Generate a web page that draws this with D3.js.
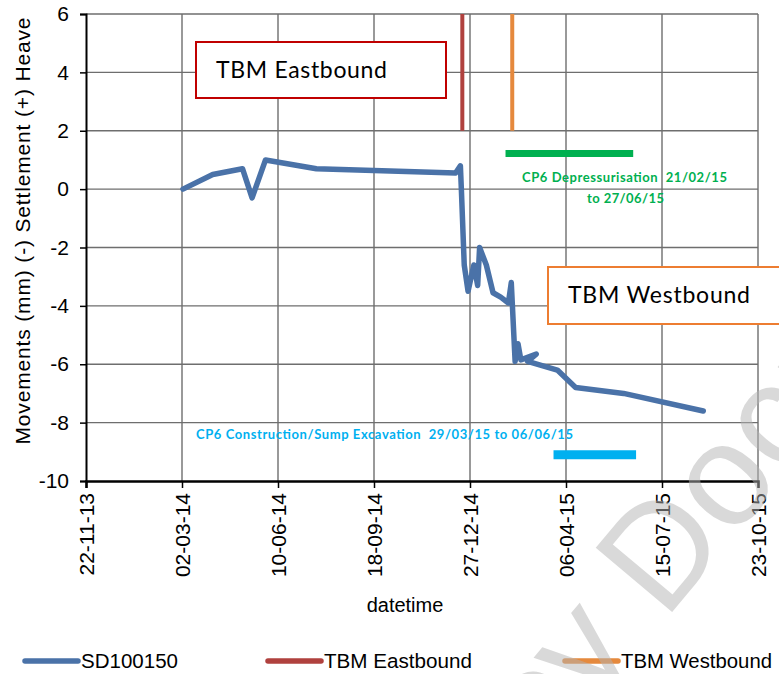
<!DOCTYPE html>
<html><head><meta charset="utf-8">
<script src="https://cdn.jsdelivr.net/npm/d3@7"></script>
<style>body{margin:0;background:#fff}svg{display:block}</style>
</head><body>
<svg id="c" width="779" height="674"></svg>
<script>
// ---- data ----
const seriesName = "SD100150";
const dates = ["2014-03-03","2014-04-03","2014-05-04","2014-05-14","2014-05-28","2014-07-20",
  "2014-12-12","2014-12-17","2014-12-18","2014-12-21","2014-12-25","2014-12-31","2015-01-04",
  "2015-01-06","2015-01-13","2015-01-20","2015-01-28","2015-02-05","2015-02-08","2015-02-12",
  "2015-02-15","2015-02-18","2015-03-06","2015-02-25","2015-03-28","2015-04-16","2015-06-05","2015-08-27"];
const values = [0,0.5,0.7,-0.3,1.0,0.7,
  0.55,0.8,0,-2.6,-3.5,-2.6,-3.3,
  -2.0,-2.6,-3.55,-3.7,-3.9,-3.2,-5.9,
  -5.3,-5.85,-5.65,-5.9,-6.2,-6.8,-7.0,-7.6];
const eastDate = "2014-12-19";
const westDate = "2015-02-09";
const tbmLineValues = [2, 6];
const xTickDates = ["2013-11-22","2014-03-02","2014-06-10","2014-09-18","2014-12-27","2015-04-06","2015-07-15","2015-10-23"];
const yTicks = [6,4,2,0,-2,-4,-6,-8,-10];
const greenBar = {from:"2015-02-02", to:"2015-06-15", value:1.22};
const blueBar = {from:"2015-03-24", to:"2015-06-18", value:-9.1};
const legendNames = ["SD100150","TBM Eastbound","TBM Westbound"];

const parse = d3.timeParse("%Y-%m-%d");
const svg = d3.select("#c");
const x = d3.scaleTime().domain([parse(xTickDates[0]), parse(xTickDates[xTickDates.length-1])]).range([86,758]);
const y = d3.scaleLinear().domain([-10,6]).range([481,14]);

const colBlue="#4a72a8", colRed="#b0413e", colOrange="#e5893d", colGreen="#00b050", colCyan="#00b0f0";
const fontA = "Liberation Sans, Arial, sans-serif";
const fontC = "Lato, 'Open Sans', sans-serif";

// grid
const g = svg.append("g");
g.selectAll(".vg").data(xTickDates.slice(1)).enter().append("line")
  .attr("x1",d=>x(parse(d))).attr("x2",d=>x(parse(d))).attr("y1",y(6)).attr("y2",y(-10))
  .attr("stroke","#6e6e6e").attr("stroke-width",1.4);
g.selectAll(".hg").data(yTicks.filter(v=>v!==-10)).enter().append("line")
  .attr("x1",x.range()[0]).attr("x2",x.range()[1]).attr("y1",d=>y(d)).attr("y2",d=>y(d))
  .attr("stroke","#6e6e6e").attr("stroke-width",1.4);

// axes
const yAxis = svg.append("g").attr("transform","translate(86,0)")
  .call(d3.axisLeft(y).tickValues(yTicks).tickSize(6).tickFormat(d3.format("d")));
yAxis.select(".domain").attr("stroke","#000").attr("stroke-width",2);
yAxis.selectAll(".tick line").attr("stroke","#000").attr("stroke-width",1.5);
yAxis.selectAll(".tick text").attr("font-family",fontA).attr("font-size",21).attr("fill","#000").attr("x",-17)
  .text(d=>String(d).replace("\u2212","-"));

const xAxis = svg.append("g").attr("transform","translate(0,481)")
  .call(d3.axisBottom(x).tickValues(xTickDates.map(parse)).tickSize(7).tickFormat(d3.timeFormat("%d-%m-%y")));
xAxis.select(".domain").attr("stroke","#000").attr("stroke-width",2.5);
xAxis.selectAll(".tick line").attr("stroke","#000").attr("stroke-width",1.5);
xAxis.selectAll(".tick text").attr("font-family",fontA).attr("font-size",21).attr("fill","#000")
  .attr("transform","rotate(-90)").attr("text-anchor","end").attr("x",-12).attr("y",0).attr("dy","0.35em");

// axis titles
svg.append("text").attr("transform","translate(30,231) rotate(-90)").attr("text-anchor","middle")
  .attr("font-family",fontA).attr("font-size",21).attr("fill","#000").attr("textLength",427)
  .text("Movements (mm) (-) Settlement (+) Heave");
svg.append("text").attr("x",405).attr("y",612).attr("text-anchor","middle")
  .attr("font-family",fontA).attr("font-size",20).attr("fill","#000").text("datetime");

// TBM lines
[[eastDate,colRed],[westDate,colOrange]].forEach(([d,c])=>{
  svg.append("line").attr("x1",x(parse(d))).attr("x2",x(parse(d)))
    .attr("y1",y(tbmLineValues[0])).attr("y2",y(tbmLineValues[1]))
    .attr("stroke",c).attr("stroke-width",4);
});

// bars
svg.append("line").attr("x1",x(parse(greenBar.from))).attr("x2",x(parse(greenBar.to)))
  .attr("y1",y(greenBar.value)).attr("y2",y(greenBar.value)).attr("stroke",colGreen).attr("stroke-width",7);
svg.append("line").attr("x1",x(parse(blueBar.from))).attr("x2",x(parse(blueBar.to)))
  .attr("y1",y(blueBar.value)).attr("y2",y(blueBar.value)).attr("stroke",colCyan).attr("stroke-width",9);

// annotation texts
svg.append("text").attr("x",522).attr("y",182).attr("font-family",fontC).attr("font-weight","bold")
  .attr("font-size",13).attr("fill",colGreen).attr("textLength",205).attr("xml:space","preserve")
  .text("CP6 Depressurisation  21/02/15");
svg.append("text").attr("x",587).attr("y",203).attr("font-family",fontC).attr("font-weight","bold")
  .attr("font-size",13).attr("fill",colGreen).attr("textLength",77).text("to 27/06/15");
svg.append("text").attr("x",196).attr("y",439).attr("font-family",fontC).attr("font-weight","bold")
  .attr("font-size",13).attr("fill",colCyan).attr("textLength",377).attr("xml:space","preserve")
  .text("CP6 Construction/Sump Excavation  29/03/15 to 06/06/15");

// series
const pts = dates.map((d,i)=>({d:parse(d), v:values[i]}));
svg.append("path").datum(pts).attr("fill","none").attr("stroke",colBlue).attr("stroke-width",5.5)
  .attr("stroke-linejoin","round").attr("stroke-linecap","round")
  .attr("d",d3.line().x(p=>x(p.d)).y(p=>y(p.v)));

// text boxes
svg.append("rect").attr("x",196).attr("y",42).attr("width",250).attr("height",56)
  .attr("fill","#fff").attr("stroke","#c00000").attr("stroke-width",2);
svg.append("text").attr("x",216).attr("y",78).attr("font-family",fontC).attr("font-size",23)
  .attr("fill","#000").attr("textLength",171).text("TBM Eastbound");
svg.append("rect").attr("x",548).attr("y",267).attr("width",240).attr("height",57)
  .attr("fill","#fff").attr("stroke","#ed7d31").attr("stroke-width",2);
svg.append("text").attr("x",568).attr("y",303).attr("font-family",fontC).attr("font-size",23)
  .attr("fill","#000").attr("textLength",182).text("TBM Westbound");

// legend
const legCols=[colBlue,colRed,colOrange];
const legX=[25,268,565];
const legW=[97,148,151];
const leg = svg.append("g");
legendNames.forEach((n,i)=>{
  leg.append("line").attr("x1",legX[i]).attr("x2",legX[i]+53).attr("y1",661).attr("y2",661)
    .attr("stroke",legCols[i]).attr("stroke-width",5.5).attr("stroke-linecap","round");
  leg.append("text").attr("x",legX[i]+56).attr("y",668).attr("font-family",fontA).attr("font-size",20.5)
    .attr("fill","#000").attr("textLength",legW[i]).attr("lengthAdjust","spacingAndGlyphs").text(n);
});

// watermark
svg.append("text").attr("transform","translate(338,1010) rotate(-50)")
  .attr("font-family","Liberation Sans, Arial, sans-serif").attr("font-size",145)
  .attr("fill","#b4b4b4").attr("opacity",0.5).text("Legacy Document");
</script>
</body></html>
